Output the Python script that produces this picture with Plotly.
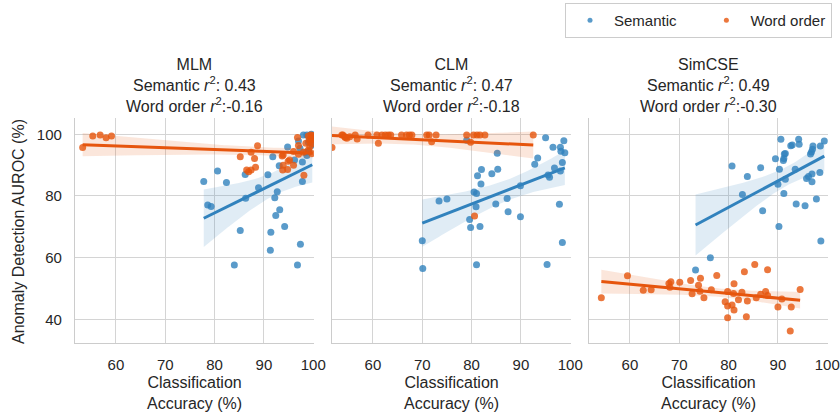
import numpy as np
import plotly.graph_objects as go

# ---------------- data ----------------
models = ["MLM", "CLM", "SimCSE"]
sem_r2 = ["0.43", "0.47", "0.49"]
wo_r2 = ["-0.16", "-0.18", "-0.30"]
x_ticks = [60, 70, 80, 90, 100]
y_ticks = [40, 60, 80, 100]

mlm_sem_x = [77.8, 78.6, 79.3, 80.6, 82.4, 84.0, 85.2, 86.2, 86.3, 88.9, 90.8, 91.8, 91.3, 91.4,
             92.2, 92.4, 92.7, 93.1, 93.2, 94.2, 94.8, 96.2, 96.8, 97.4, 97.0, 97.8, 97.8, 98.0,
             98.5, 98.7, 99.0, 99.6, 98.7, 99.1, 99.8, 99.5, 97.3]
mlm_sem_y = [84.7, 77.1, 76.6, 88.1, 84.4, 57.6, 68.8, 87.0, 79.3, 82.7, 86.9, 92.7, 62.4, 68.2,
             79.4, 73.7, 81.4, 89.8, 75.5, 70.1, 95.9, 91.7, 57.6, 64.3, 97.8, 84.7, 91.0, 99.8,
             94.2, 93.1, 97.4, 100.0, 99.8, 94.4, 96.5, 98.5, 95.5]
mlm_wo_x = [53.25, 55.3, 56.8, 58.0, 59.1, 85.2, 87.4, 88.7, 88.1, 86.5, 86.9, 87.4, 88.3, 93.7,
            93.8, 93.9, 94.8, 95.2, 96.0, 96.0, 96.8, 97.0, 97.0, 98.1, 99.0, 99.2, 99.3, 99.7,
            99.0, 98.5, 93.9, 94.9, 99.5, 99.8, 98.0, 99.6, 99.8, 99.4, 99.9]
mlm_wo_y = [95.7, 99.5, 99.8, 98.9, 99.5, 92.7, 94.2, 96.3, 92.2, 88.4, 87.9, 88.4, 89.3, 93.0,
            88.4, 90.0, 88.6, 91.7, 90.0, 94.4, 99.0, 96.4, 93.5, 86.7, 99.5, 98.2, 96.0, 93.8,
            94.9, 97.1, 93.3, 91.3, 99.8, 97.0, 94.2, 99.0, 98.5, 97.5, 99.6]

clm_sem_x = [70.0, 70.1, 73.4, 75.0, 79.0, 79.6, 79.8, 80.5, 81.0, 80.9, 81.0, 81.7, 81.2, 82.0,
             81.9, 84.1, 84.9, 85.2, 85.3, 87.2, 87.4, 89.9, 89.9, 92.8, 93.4, 95.0, 95.3, 95.5,
             95.8, 96.5, 96.8, 97.8, 98.0, 98.0, 98.1, 98.4, 98.4, 98.7, 98.9]
clm_sem_y = [65.5, 56.5, 78.4, 79.0, 98.1, 72.4, 69.8, 81.3, 80.8, 76.5, 57.7, 70.1, 86.6, 88.6,
             83.9, 87.2, 77.4, 93.9, 88.7, 79.2, 74.9, 73.3, 83.3, 90.3, 92.3, 98.9, 57.8, 86.8,
             86.1, 95.8, 89.1, 77.3, 88.1, 95.8, 94.5, 64.9, 90.9, 97.9, 94.0]
clm_wo_x = [51.7, 53.7, 54.3, 54.7, 55.3, 53.9, 54.4, 56.4, 56.8, 59.0, 60.8, 61.1, 61.8, 62.5,
            63.1, 63.6, 65.8, 66.8, 67.4, 67.9, 70.9, 71.4, 71.9, 72.8, 79.0, 79.8, 80.4, 81.1,
            81.7, 82.7, 80.6, 92.5]
clm_wo_y = [95.7, 99.8, 99.2, 98.7, 99.2, 99.8, 99.0, 99.8, 98.5, 99.8, 99.8, 97.1, 99.8, 99.8,
            99.8, 99.8, 99.8, 99.8, 99.8, 99.8, 99.8, 99.8, 97.6, 99.8, 99.8, 97.4, 99.8, 99.8,
            99.8, 99.8, 73.5, 99.8]

sim_sem_x = [73.3, 76.3, 80.7, 82.8, 83.8, 86.5, 86.9, 89.5, 90.0, 90.2, 90.3, 90.6, 91.1, 91.2,
             91.2, 91.3, 91.5, 91.5, 92.6, 92.9, 93.5, 93.7, 94.2, 94.3, 95.5, 95.8, 96.2, 96.6,
             96.8, 96.9, 96.9, 97.0, 97.1, 97.8, 98.5, 98.6, 98.7, 99.4]
sim_sem_y = [56.0, 60.0, 89.7, 80.5, 86.3, 89.2, 75.2, 92.1, 83.8, 70.1, 88.7, 98.4, 91.5, 92.2,
             80.8, 93.6, 93.8, 85.4, 96.3, 96.5, 88.7, 77.4, 98.4, 96.8, 76.8, 85.7, 86.3, 93.6,
             94.3, 87.1, 84.6, 95.2, 96.2, 79.0, 87.6, 96.2, 65.4, 97.8]
sim_wo_x = [54.2, 59.5, 62.7, 64.3, 67.9, 68.3, 68.1, 70.1, 72.3, 72.6, 73.9, 74.3, 74.2, 75.0,
            76.5, 77.6, 79.3, 79.8, 79.8, 79.8, 80.7, 81.1, 81.1, 81.0, 82.0, 82.7, 83.2, 83.6,
            83.8, 85.3, 85.6, 86.5, 87.5, 87.9, 87.9, 90.0, 90.8, 92.5, 92.7, 94.5]
sim_wo_y = [47.0, 54.1, 49.4, 49.6, 51.6, 52.2, 50.4, 52.0, 52.6, 48.3, 51.0, 53.3, 49.1, 47.0,
            49.6, 54.2, 45.7, 44.3, 40.5, 49.0, 44.6, 51.5, 43.0, 48.4, 46.3, 48.8, 55.4, 40.8,
            45.9, 57.8, 47.0, 48.1, 49.0, 56.1, 47.7, 44.0, 46.6, 36.2, 44.0, 49.7]

panels = [
    (mlm_sem_x, mlm_sem_y, mlm_wo_x, mlm_wo_y),
    (clm_sem_x, clm_sem_y, clm_wo_x, clm_wo_y),
    (sim_sem_x, sim_sem_y, sim_wo_x, sim_wo_y),
]

BLUE = "#3182bd"
ORANGE = "#e6550d"
BLUE_BAND = "rgba(49,130,189,0.15)"
ORANGE_BAND = "rgba(230,85,13,0.15)"
FONT = "Liberation Sans, Arial, sans-serif"
TXT = "#262626"
GRID = "#d4d4d4"


def regfit(x, y):
    x = np.asarray(x, float)
    y = np.asarray(y, float)
    b, a = np.polyfit(x, y, 1)
    xs = np.linspace(x.min(), x.max(), 100)
    yh = a + b * xs
    n = len(x)
    resid = y - (a + b * x)
    s = np.sqrt(np.sum(resid ** 2) / (n - 2))
    xm = x.mean()
    sxx = np.sum((x - xm) ** 2)
    t = 1.96 + 2.5 / (n - 2)
    se = s * np.sqrt(1.0 / n + (xs - xm) ** 2 / sxx)
    return xs, yh, yh - t * se, yh + t * se


fig = go.Figure()

for i, (sx, sy, wx, wy) in enumerate(panels):
    xa = "x" if i == 0 else f"x{i+1}"
    ya = "y" if i == 0 else f"y{i+1}"
    for (px, py, col, band) in [(sx, sy, BLUE, BLUE_BAND), (wx, wy, ORANGE, ORANGE_BAND)]:
        fig.add_trace(go.Scatter(x=px, y=py, mode="markers", xaxis=xa, yaxis=ya,
                                 marker=dict(color=col, size=7, opacity=0.8, line=dict(width=0)),
                                 showlegend=False, hoverinfo="skip"))
        xs, yh, lo, hi = regfit(px, py)
        fig.add_trace(go.Scatter(x=np.concatenate([xs, xs[::-1]]),
                                 y=np.concatenate([hi, lo[::-1]]),
                                 fill="toself", fillcolor=band, line=dict(width=0),
                                 mode="lines", xaxis=xa, yaxis=ya, showlegend=False,
                                 hoverinfo="skip"))
        fig.add_trace(go.Scatter(x=xs, y=yh, mode="lines", xaxis=xa, yaxis=ya,
                                 line=dict(color=col, width=3), showlegend=False,
                                 hoverinfo="skip"))

# legend entries
NB = "\u00a0"
for name, col in [("Semantic" + NB * 5, BLUE), ("Word order", ORANGE)]:
    fig.add_trace(go.Scatter(x=[None], y=[None], mode="markers", name=name,
                             marker=dict(color=col, size=5, opacity=0.8)))

W, H = 840, 412
doms = [(75, 314), (332, 571), (589, 828)]
ytop, ybot = 118, 342.7
ydom = [1 - ybot / H, 1 - ytop / H]

layout = dict(
    width=W, height=H, margin=dict(l=0, r=0, t=0, b=0, autoexpand=False),
    paper_bgcolor="white", plot_bgcolor="white",
    font=dict(family=FONT, color=TXT, size=15),
    legend=dict(orientation="h", x=565 / W, xanchor="left", y=1 - 3 / H, yanchor="top",
                bordercolor="#cccccc", borderwidth=1, font=dict(size=15, color=TXT),
                itemwidth=38),
)

for i, (l, r) in enumerate(doms):
    sfx = "" if i == 0 else str(i + 1)
    layout["xaxis" + sfx] = dict(
        domain=[l / W, r / W], range=[51.7, 100.15], anchor="y" + sfx,
        tickvals=x_ticks, showgrid=True, gridcolor=GRID, gridwidth=1.2,
        showline=True, linecolor="#cccccc", linewidth=1.3, zeroline=False,
        ticks="outside", ticklen=8, tickcolor="rgba(0,0,0,0)",
        tickfont=dict(size=15, color=TXT))
    ya = dict(domain=ydom, range=[32.4, 105.3], anchor="x" + sfx, tickvals=y_ticks,
              showgrid=True, gridcolor=GRID, gridwidth=1.2, zeroline=False,
              showline=True, linecolor="#cccccc", linewidth=1.3,
              tickfont=dict(size=15, color=TXT))
    if i == 0:
        ya.update(ticks="outside", ticklen=9, tickcolor="rgba(0,0,0,0)")
    else:
        ya.update(showticklabels=False, matches="y")
    layout["yaxis" + sfx] = ya

fig.update_layout(**layout)

ann = []
for i, (l, r) in enumerate(doms):
    cx = (l + r) / 2 / W
    title = (f"{models[i]}<br>Semantic <i>r</i><sup>2</sup>: {sem_r2[i]}"
             f"<br>Word order <i>r</i><sup>2</sup>:{wo_r2[i]}")
    ann.append(dict(text=title, x=cx, y=1 - 85 / H, xref="paper", yref="paper",
                    xanchor="center", yanchor="middle", showarrow=False,
                    font=dict(size=16, color=TXT)))
    ann.append(dict(text="Classification<br>Accuracy (%)", x=cx, y=1 - 392.5 / H,
                    xref="paper", yref="paper", xanchor="center", yanchor="middle",
                    showarrow=False, borderpad=0, font=dict(size=16, color=TXT)))
ann.append(dict(text="Anomaly Detection AUROC (%)", x=18 / W, y=1 - 232 / H,
                xref="paper", yref="paper", xanchor="center", yanchor="middle",
                textangle=-90, showarrow=False, font=dict(size=16, color=TXT)))
fig.update_layout(annotations=ann)

fig.write_html("out.html")
